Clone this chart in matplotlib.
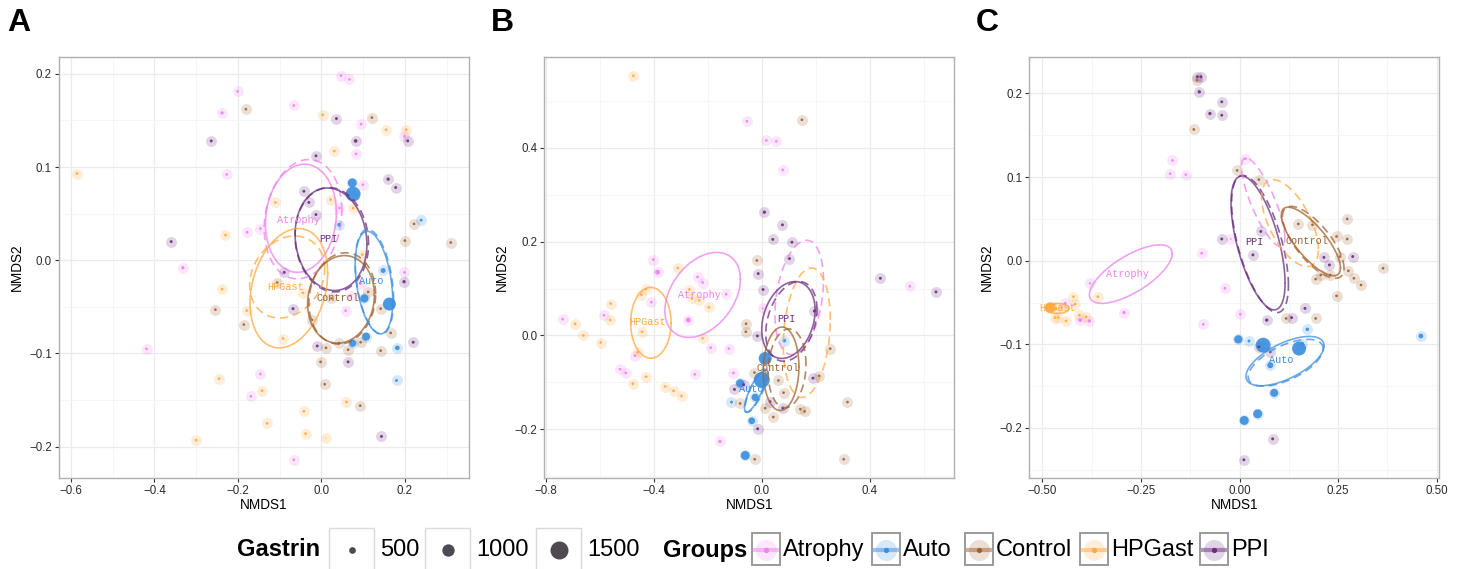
import matplotlib
matplotlib.use('Agg')
import matplotlib.pyplot as plt
from matplotlib.ticker import MultipleLocator, FuncFormatter
from matplotlib.patches import Rectangle
import numpy as np

plt.rcParams['font.family'] = ['Liberation Sans', 'DejaVu Sans']

groups = ['Atrophy', 'Auto', 'Control', 'HPGast', 'PPI']
colors = {'Atrophy': '#ee82ee', 'Auto': '#3a8ede', 'Control': '#a0602d',
          'HPGast': '#ffa940', 'PPI': '#6a2c7e'}

# ---- points: (NMDS1, NMDS2, Gastrin) ----
A_atrophy = [(0.047, 0.198, 145), (0.067, 0.194, 145), (-0.201, 0.181, 145), (-0.238, 0.158, 200),
             (-0.066, 0.166, 145), (0.095, 0.146, 145), (0.083, 0.114, 145), (-0.227, 0.092, 145),
             (0.099, 0.081, 145), (-0.178, 0.030, 145), (-0.146, 0.034, 145), (0.043, 0.056, 145),
             (-0.332, -0.008, 200), (0.199, -0.013, 145), (0.094, -0.025, 145), (0.058, -0.054, 145),
             (0.070, -0.038, 145), (-0.419, -0.095, 145), (-0.146, -0.122, 145), (-0.169, -0.146, 145),
             (-0.066, -0.214, 145), (0.199, 0.133, 145)]
A_auto = [(0.074, 0.083, 700), (0.076, 0.071, 1230), (0.043, 0.038, 260), (0.239, 0.043, 165),
          (0.148, -0.011, 345), (0.103, -0.041, 635), (0.163, -0.047, 1055), (0.107, -0.082, 615),
          (0.075, -0.089, 555), (0.182, -0.094, 325), (0.180, -0.129, 165)]
A_control = [(-0.181, 0.162, 145), (0.121, 0.153, 145), (0.222, 0.039, 145), (0.200, 0.021, 145),
             (0.310, 0.019, 145), (-0.106, -0.024, 145), (-0.254, -0.053, 145), (-0.186, -0.069, 145),
             (-0.022, -0.064, 115), (0.024, -0.041, 115), (0.112, -0.034, 145), (0.142, -0.052, 145),
             (0.166, -0.078, 145), (0.011, -0.094, 145), (0.042, -0.089, 145), (0.064, -0.096, 145),
             (0.094, -0.088, 145), (0.142, -0.097, 145), (-0.002, -0.109, 145), (0.008, -0.133, 145),
             (0.093, -0.156, 145)]
A_hpgast = [(-0.586, 0.093, 145), (0.003, 0.156, 145), (0.155, 0.140, 145), (0.203, 0.140, 145),
            (0.031, 0.117, 145), (-0.110, 0.062, 145), (0.022, 0.065, 145), (0.076, 0.056, 145),
            (-0.230, 0.027, 145), (0.098, 0.006, 145), (-0.238, -0.031, 145), (-0.044, -0.035, 145),
            (-0.179, -0.054, 145), (-0.092, -0.084, 145), (-0.245, -0.127, 145), (-0.142, -0.140, 145),
            (0.060, -0.152, 145), (-0.042, -0.162, 145), (-0.130, -0.175, 145), (-0.038, -0.186, 145),
            (-0.300, -0.193, 145), (0.010, -0.191, 10)]
A_ppi = [(0.036, 0.152, 165), (0.082, 0.128, 230), (-0.264, 0.128, 165), (0.207, 0.128, 165),
         (-0.013, 0.112, 165), (0.160, 0.087, 200), (0.178, 0.078, 165), (-0.042, 0.074, 165),
         (-0.030, 0.062, 165), (-0.013, 0.049, 165), (-0.360, 0.020, 165), (-0.089, -0.013, 165),
         (0.198, -0.023, 200), (-0.068, -0.052, 165), (-0.010, -0.092, 165), (0.064, -0.109, 165),
         (0.220, -0.088, 165), (0.144, -0.189, 165)]

B_atrophy = [(-0.055, 0.457, 145), (0.017, 0.416, 145), (0.054, 0.414, 145), (0.078, 0.353, 145),
             (-0.402, 0.162, 145), (-0.386, 0.135, 345), (-0.238, 0.125, 145), (-0.219, 0.113, 145),
             (-0.132, 0.088, 145), (-0.409, 0.071, 145), (-0.738, 0.035, 145), (-0.585, 0.043, 145),
             (-0.272, 0.033, 345), (-0.189, -0.026, 145), (-0.122, -0.028, 145), (-0.470, -0.043, 145),
             (-0.525, -0.072, 145), (-0.504, -0.080, 145), (-0.248, -0.083, 145), (-0.105, -0.080, 145),
             (-0.155, -0.226, 200), (0.004, 0.058, 60), (0.549, 0.105, 145)]
B_auto = [(0.084, -0.011, 220), (0.013, -0.049, 1055), (0.000, -0.095, 1315), (-0.080, -0.102, 635),
          (-0.024, -0.132, 555), (-0.112, -0.142, 165), (-0.037, -0.182, 500), (-0.061, -0.256, 700)]
B_control = [(0.149, 0.460, 145), (-0.018, 0.160, 145), (-0.058, 0.025, 145), (-0.059, 0.008, 145),
             (-0.027, -0.079, 145), (0.062, -0.096, 145), (0.081, -0.122, 145), (0.043, -0.174, 145),
             (0.143, -0.157, 145), (0.159, -0.162, 145), (0.213, -0.086, 145), (0.318, -0.142, 145),
             (0.304, -0.264, 145), (-0.026, -0.264, 145), (-0.080, -0.145, 145), (0.013, -0.155, 145),
             (0.254, -0.028, 145)]
B_hpgast = [(-0.476, 0.554, 145), (-0.311, 0.144, 145), (-0.430, 0.099, 145), (-0.446, 0.087, 145),
            (-0.268, 0.098, 145), (-0.259, 0.079, 145), (-0.232, 0.075, 145), (-0.196, 0.060, 145),
            (-0.560, 0.068, 145), (-0.562, 0.033, 145), (-0.692, 0.025, 145), (-0.661, 0.000, 145),
            (-0.597, -0.015, 145), (-0.444, 0.008, 145), (-0.460, -0.036, 145), (-0.219, -0.006, 145),
            (-0.429, -0.088, 145), (-0.478, -0.103, 145), (-0.358, -0.109, 145), (-0.327, -0.118, 145),
            (-0.297, -0.129, 145)]
B_ppi = [(0.010, 0.263, 200), (0.077, 0.236, 165), (0.041, 0.205, 165), (0.112, 0.199, 165),
         (0.103, 0.164, 165), (-0.013, 0.132, 165), (0.005, 0.098, 165), (0.440, 0.122, 165),
         (0.646, 0.093, 165), (0.195, 0.052, 165), (-0.016, -0.001, 165), (0.190, -0.091, 165),
         (-0.101, -0.115, 165), (-0.067, -0.105, 165), (-0.015, -0.199, 165), (0.031, -0.141, 145),
         (0.078, -0.155, 145)]

C_atrophy = [(-0.170, 0.120, 145), (-0.176, 0.104, 145), (-0.136, 0.103, 145), (0.015, 0.122, 145),
             (-0.096, 0.009, 145), (-0.022, 0.026, 60), (-0.037, -0.033, 145), (0.002, -0.064, 145),
             (-0.092, -0.076, 145), (-0.293, -0.062, 200), (-0.379, -0.027, 115), (-0.442, -0.051, 165),
             (-0.404, -0.071, 250), (-0.381, -0.072, 200)]
C_auto = [(-0.003, -0.094, 635), (0.024, -0.096, 165), (0.060, -0.101, 1230), (0.151, -0.105, 1150),
          (0.172, -0.082, 220), (0.159, -0.099, 220), (0.078, -0.125, 440), (0.088, -0.158, 615),
          (0.046, -0.183, 700), (0.012, -0.191, 700), (0.460, -0.090, 325)]
C_control = [(-0.108, 0.216, 145), (-0.116, 0.157, 145), (-0.006, 0.108, 145), (0.049, 0.097, 145),
             (0.149, 0.044, 145), (0.185, 0.043, 145), (0.273, 0.050, 145), (0.246, 0.029, 145),
             (0.273, 0.026, 145), (0.255, 0.005, 145), (0.276, -0.012, 145), (0.290, -0.021, 145),
             (0.308, -0.029, 145), (0.206, -0.017, 145), (0.193, -0.022, 145), (0.230, -0.017, 145),
             (0.364, -0.009, 145), (0.246, -0.042, 145), (0.193, -0.069, 145), (0.118, -0.069, 145)]
C_hpgast = [(-0.480, -0.056, 845), (-0.421, -0.043, 145), (-0.417, -0.052, 145), (-0.406, -0.065, 145),
            (-0.389, -0.067, 145), (-0.359, -0.043, 145), (-0.468, -0.068, 145), (-0.460, -0.068, 145),
            (-0.440, -0.072, 145), (-0.451, -0.056, 115), (-0.465, -0.057, 115)]
C_ppi = [(-0.107, 0.220, 165), (-0.098, 0.220, 165), (-0.102, 0.202, 200), (-0.045, 0.190, 165),
         (-0.075, 0.176, 200), (-0.045, 0.174, 165), (0.054, 0.035, 165), (-0.045, 0.026, 165),
         (0.034, 0.007, 165), (0.214, 0.004, 165), (0.228, -0.005, 165), (0.287, 0.005, 165),
         (0.166, -0.057, 165), (0.132, -0.068, 165), (0.069, -0.071, 200), (0.078, -0.109, 145),
         (0.049, -0.103, 145), (0.084, -0.213, 165), (0.011, -0.238, 165)]

# ---- ellipses: (group, linestyle, cx, cy, half-width, half-height, correlation) ----
A_ellipses = [('Atrophy', '-', -0.049, 0.045, 0.085, 0.058, 0.10),
              ('Atrophy', '--', -0.044, 0.044, 0.093, 0.064, 0.15),
              ('PPI', '-', 0.023, 0.0225, 0.086, 0.055, -0.10),
              ('PPI', '--', 0.025, 0.022, 0.088, 0.056, -0.08),
              ('HPGast', '-', -0.078, -0.030, 0.093, 0.064, 0.25),
              ('HPGast', '--', -0.082, -0.018, 0.090, 0.044, 0.20),
              ('Control', '-', 0.047, -0.042, 0.080, 0.047, 0.10),
              ('Control', '--', 0.050, -0.041, 0.080, 0.049, 0.10),
              ('Auto', '-', 0.126, -0.024, 0.045, 0.055, -0.35),
              ('Auto', '--', 0.127, -0.023, 0.046, 0.056, -0.35)]
B_ellipses = [('HPGast', '-', -0.411, 0.027, 0.075, 0.0755, 0.0),
              ('Atrophy', '-', -0.219, 0.0865, 0.140, 0.0907, 0.37),
              ('Atrophy', '--', 0.139, 0.081, 0.090, 0.122, 0.30),
              ('HPGast', '--', 0.167, 0.006, 0.087, 0.138, 0.20),
              ('PPI', '-', 0.099, 0.033, 0.099, 0.082, 0.25),
              ('PPI', '--', 0.110, 0.030, 0.095, 0.085, 0.30),
              ('Control', '-', 0.072, -0.071, 0.066, 0.089, 0.05),
              ('Control', '--', 0.094, -0.070, 0.070, 0.084, 0.10),
              ('Auto', '-', -0.024, -0.120, 0.040, 0.044, 0.80),
              ('Auto', '--', -0.020, -0.118, 0.042, 0.046, 0.80)]
C_ellipses = [('Atrophy', '-', -0.2756, -0.016, 0.105, 0.035, 0.70),
              ('PPI', '-', 0.047, 0.0213, 0.0685, 0.080, -0.60),
              ('PPI', '--', 0.052, 0.020, 0.072, 0.082, -0.60),
              ('Atrophy', '--', 0.060, 0.070, 0.055, 0.053, -0.80),
              ('HPGast', '--', 0.128, 0.045, 0.072, 0.052, -0.60),
              ('Control', '-', 0.181, 0.023, 0.075, 0.041, -0.77),
              ('Control', '--', 0.187, 0.022, 0.078, 0.043, -0.72),
              ('Auto', '-', 0.1154, -0.120, 0.099, 0.0295, 0.62),
              ('Auto', '--', 0.117, -0.122, 0.095, 0.028, 0.60),
              ('HPGast', '-', -0.462, -0.057, 0.030, 0.006, 0.0)]

# ---- group label positions (centroids) ----
A_labels = {'Atrophy': (-0.056, 0.043), 'PPI': (0.016, 0.023), 'Auto': (0.119, -0.022),
            'HPGast': (-0.086, -0.029), 'Control': (0.040, -0.041)}
B_labels = {'Atrophy': (-0.231, 0.087), 'HPGast': (-0.424, 0.028), 'PPI': (0.090, 0.035),
            'Control': (0.060, -0.070), 'Auto': (-0.037, -0.115)}
C_labels = {'PPI': (0.039, 0.022), 'Control': (0.172, 0.024), 'Atrophy': (-0.284, -0.016),
            'HPGast': (-0.462, -0.057), 'Auto': (0.105, -0.119)}

panels = [
    ('A', {'Atrophy': A_atrophy, 'Auto': A_auto, 'Control': A_control, 'HPGast': A_hpgast, 'PPI': A_ppi},
     A_ellipses, A_labels, (-0.6295, 0.353), (-0.2336, 0.218), 0.2, 0.1, 1, 1),
    ('B', {'Atrophy': B_atrophy, 'Auto': B_auto, 'Control': B_control, 'HPGast': B_hpgast, 'PPI': B_ppi},
     B_ellipses, B_labels, (-0.806, 0.714), (-0.304, 0.594), 0.4, 0.2, 1, 1),
    ('C', {'Atrophy': C_atrophy, 'Auto': C_auto, 'Control': C_control, 'HPGast': C_hpgast, 'PPI': C_ppi},
     C_ellipses, C_labels, (-0.533, 0.5066), (-0.2598, 0.2436), 0.25, 0.1, 2, 1),
]
lefts = [58.7, 544.3, 1029.3]
letter_x = [7, 491, 976]


def dot_size(g):
    # diameter in px -> marker area in pt^2 (dpi 100)
    d_px = max(0.0113 * g + 1.05, 1.0)
    return (d_px * 0.72) ** 2


def fmt(nd):
    return FuncFormatter(lambda v, p: f'{v:.{nd}f}'.replace('-', '\u2212'))


fig = plt.figure(figsize=(14.6, 5.69), dpi=100)
W, H = 1460, 569

for (name, pts, ells, labs, xl, yl, xmaj, ymaj, xnd, ynd), left, lx in zip(panels, lefts, letter_x):
    ax = fig.add_axes([left / W, (H - 478) / H, 410 / W, 421 / H])
    ax.set_xlim(*xl)
    ax.set_ylim(*yl)
    ax.xaxis.set_major_locator(MultipleLocator(xmaj))
    ax.xaxis.set_minor_locator(MultipleLocator(xmaj / 2))
    ax.yaxis.set_major_locator(MultipleLocator(ymaj))
    ax.yaxis.set_minor_locator(MultipleLocator(ymaj / 2))
    ax.xaxis.set_major_formatter(fmt(xnd))
    ax.yaxis.set_major_formatter(fmt(ynd))
    ax.grid(True, which='major', color='#ebebeb', lw=0.9, zorder=0)
    ax.grid(True, which='minor', color='#f5f5f5', lw=0.6, zorder=0)
    ax.set_axisbelow(True)
    ax.tick_params(which='major', length=3, width=0.8, color='#333333', labelsize=8.3,
                   labelcolor='#2b2b2b', pad=2)
    ax.tick_params(which='minor', length=0)
    for sp in ax.spines.values():
        sp.set_color('#b0b0b0')
        sp.set_linewidth(1.0)
    ax.set_xlabel('NMDS1', fontsize=9.8, labelpad=1)
    ax.set_ylabel('NMDS2', fontsize=9.8, labelpad=4)

    # halos
    for gname in groups:
        arr = np.array(pts[gname])
        ax.scatter(arr[:, 0], arr[:, 1], s=62, color=colors[gname], alpha=0.2,
                   linewidths=0, zorder=2)
    # gastrin-sized dots
    for gname in groups:
        arr = np.array(pts[gname])
        ax.scatter(arr[:, 0], arr[:, 1], s=[dot_size(g) for g in arr[:, 2]],
                   color=colors[gname], alpha=0.9, linewidths=0, zorder=3)
    # ellipses
    t = np.linspace(0, 2 * np.pi, 240)
    for gname, ls, cx, cy, hx, hy, r in ells:
        ex = cx + hx * np.cos(t)
        ey = cy + hy * (r * np.cos(t) + np.sqrt(1 - r ** 2) * np.sin(t))
        ax.plot(ex, ey, color=colors[gname], ls=ls, lw=1.2, alpha=0.75, zorder=4,
                dashes=(5, 3) if ls == '--' else (None, None))
    for gname, (px, py) in labs.items():
        ax.text(px, py, gname, color=colors[gname], fontsize=7.3, family='Liberation Mono',
                ha='center', va='center', zorder=5)

    fig.text(lx / W, 1 - 8 / H, name, fontsize=23, fontweight='bold', ha='left', va='top')

# ---- legend ----
lg = fig.add_axes([0, 0, 1, 1])
lg.set_xlim(0, W)
lg.set_ylim(H, 0)
lg.axis('off')
ty = 550
lg.text(237, ty, 'Gastrin', fontsize=17, fontweight='bold', va='center', ha='left')
gastrin_keys = [500, 1000, 1500]
gbox_x = [329, 425, 536]
for val, bx in zip(gastrin_keys, gbox_x):
    lg.add_patch(Rectangle((bx, 528), 45, 46, facecolor='white', edgecolor='#d9d9d9', lw=1))
    lg.scatter([bx + 22.5], [ty], s=dot_size(val), color='#4d4a52', linewidths=0)
    lg.text(bx + 51, ty, str(val), fontsize=17, va='center', ha='left')

lg.text(663, ty, 'Groups', fontsize=17, fontweight='bold', va='center', ha='left')
grp_box_x = [752, 872, 965, 1080, 1200]
for gname, bx in zip(groups, grp_box_x):
    lg.add_patch(Rectangle((bx, 533), 28, 32, facecolor='white', edgecolor='#9a9a9a', lw=1.4))
    lg.scatter([bx + 14], [ty], s=230, color=colors[gname], alpha=0.2, linewidths=0)
    lg.plot([bx + 1, bx + 27], [ty, ty], color=colors[gname], lw=3, alpha=0.5, solid_capstyle='butt')
    lg.scatter([bx + 14], [ty], s=14, color=colors[gname], linewidths=0)
    lg.text(bx + 31, ty, gname, fontsize=17, va='center', ha='left')

fig.savefig('out.png', dpi=100, facecolor='white')
